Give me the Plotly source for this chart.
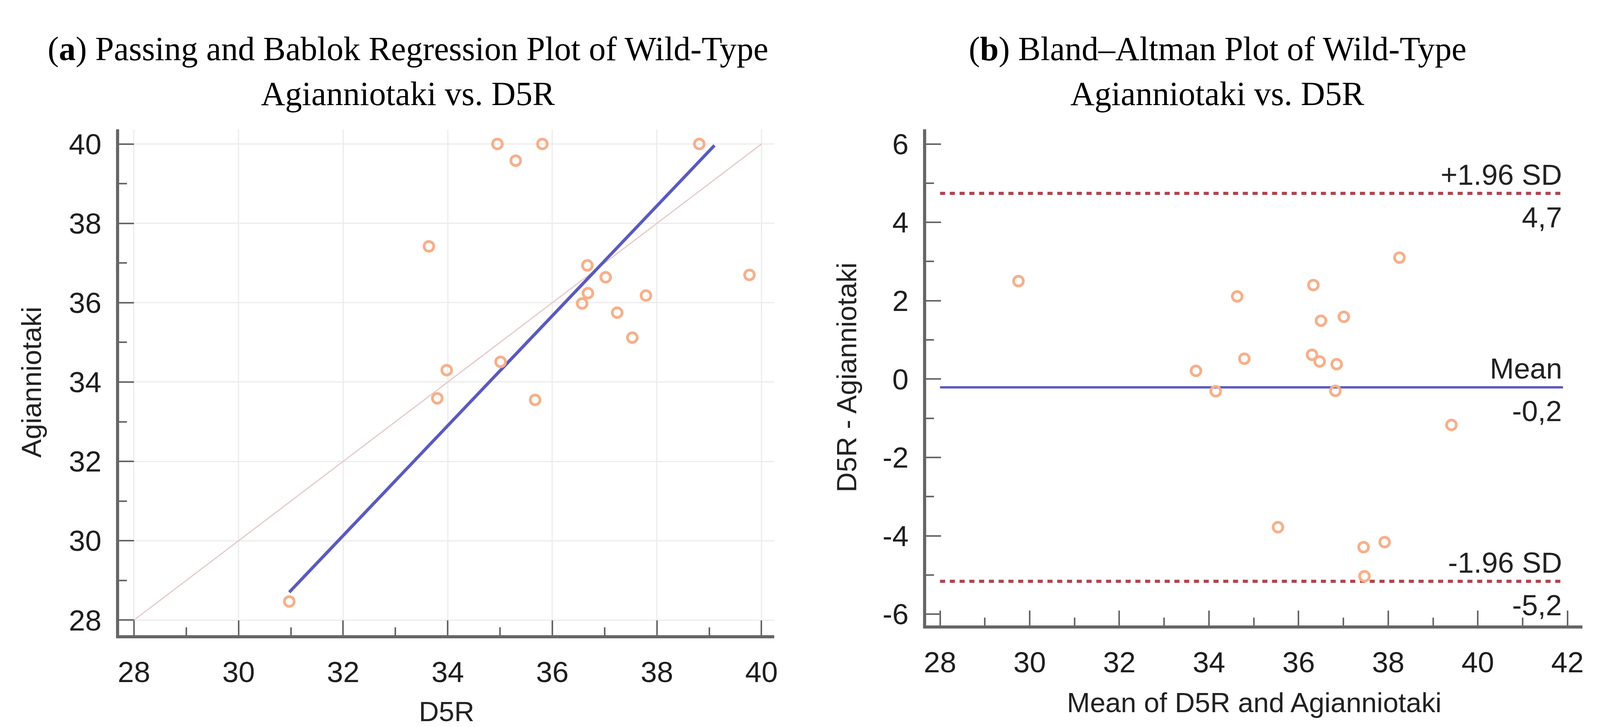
import plotly.graph_objects as go

# ---------------- data ----------------
# (a) Passing and Bablok: D5R (x) vs Agianniotaki (y)
d5r = [34.95, 35.81, 35.30, 38.81, 33.64, 36.67, 37.02, 36.68, 36.57,
       37.79, 39.77, 37.24, 37.53, 33.98, 35.01, 33.80, 35.67, 30.97]
agianniotaki = [40.00, 40.00, 39.58, 40.00, 37.42, 36.94, 36.64, 36.24, 35.98,
                36.18, 36.70, 35.75, 35.12, 34.30, 34.51, 33.59, 33.55, 28.47]
reg_slope = 1.385
reg_intercept = -14.19
reg_x = [30.97, 39.10]
identity_xy = [28, 40]

# (b) Bland-Altman: mean of both (x) vs difference D5R - Agianniotaki (y)
ba_mean = [29.75, 34.63, 36.33, 38.25, 36.50, 37.01, 33.71, 34.79, 36.30,
           36.47, 36.85, 34.15, 36.82, 39.41, 35.54, 37.45, 37.92, 37.47]
ba_diff = [2.50, 2.11, 2.40, 3.10, 1.49, 1.59, 0.21, 0.52, 0.62,
           0.45, 0.38, -0.31, -0.30, -1.17, -3.78, -4.29, -4.16, -5.03]
loa_values = [4.74, -0.21, -5.16]
loa_names = ["+1.96 SD", "Mean", "-1.96 SD"]
loa_texts = ["4,7", "-0,2", "-5,2"]
ba_line_x = [28, 41.9]

# tick labels
a_ticks = [28, 30, 32, 34, 36, 38, 40]
b_xticks = [28, 30, 32, 34, 36, 38, 40, 42]
b_yticks = [-6, -4, -2, 0, 2, 4, 6]
b_yticktext = ["-6", "-4", "-2", "0", "2", "4", "6"]

# ---------------- styles ----------------
SANS = "Liberation Sans, Arial, sans-serif"
SERIF = "Liberation Serif, Times New Roman, serif"
AX = "#666666"
PT = "#f6b08a"
BLUE = "#5a5abf"
RED = "#b04450"

fig = go.Figure()

# panel (a)
fig.add_trace(go.Scatter(x=identity_xy, y=identity_xy, mode="lines",
                         line=dict(color="#e8c8c8", width=3),
                         xaxis="x", yaxis="y", showlegend=False, hoverinfo="skip"))
fig.add_trace(go.Scatter(x=reg_x, y=[reg_intercept + reg_slope * v for v in reg_x],
                         mode="lines", line=dict(color=BLUE, width=8),
                         xaxis="x", yaxis="y", showlegend=False))
fig.add_trace(go.Scatter(x=d5r, y=agianniotaki, mode="markers",
                         marker=dict(symbol="circle-open", size=25, color=PT,
                                     line=dict(width=7, color=PT)),
                         xaxis="x", yaxis="y", showlegend=False))

# panel (b)
for val, dash, col, w in zip(loa_values, ["13px,12px", "solid", "13px,12px"],
                             [RED, BLUE, RED], [8, 6, 8]):
    fig.add_trace(go.Scatter(x=ba_line_x, y=[val, val], mode="lines",
                             line=dict(color=col, width=w, dash=dash),
                             xaxis="x2", yaxis="y2", showlegend=False))
fig.add_trace(go.Scatter(x=ba_mean, y=ba_diff, mode="markers",
                         marker=dict(symbol="circle-open", size=25, color=PT,
                                     line=dict(width=7, color=PT)),
                         xaxis="x2", yaxis="y2", showlegend=False))

tickfont = dict(family=SANS, size=75, color="#1e1e1e")
titlefont = dict(family=SANS, size=71, color="#222222")


def axis(**kw):
    d = dict(ticks="inside", ticklen=38, tickwidth=4, tickcolor=AX,
             showline=True, linewidth=8, linecolor=AX, zeroline=False,
             tickfont=tickfont, ticklabelstandoff=22,
             minor=dict(dtick=1, ticks="inside", ticklen=20, tickwidth=4,
                        tickcolor=AX, showgrid=False))
    d.update(kw)
    return d


fig.update_layout(
    autosize=True,
    margin=dict(l=0, r=0, t=0, b=0),
    paper_bgcolor="white", plot_bgcolor="white",
    xaxis=axis(domain=[0.0732, 0.4841], range=[27.715, 40.24], anchor="y",
               tickvals=a_ticks, showgrid=True, gridcolor="#ececec", gridwidth=3,
               title=dict(text="D5R", font=titlefont, standoff=46)),
    yaxis=axis(domain=[0.1204, 0.8227], range=[27.62, 40.37], anchor="x",
               tickvals=a_ticks, showgrid=True, gridcolor="#ececec", gridwidth=3,
               title=dict(text="Agianniotaki", font=titlefont, standoff=50)),
    xaxis2=axis(domain=[0.5795, 0.9911], range=[27.69, 42.33], anchor="y2",
                tickvals=b_xticks, showgrid=False,
                title=dict(text="Mean of D5R and Agianniotaki", font=titlefont, standoff=40)),
    yaxis2=axis(domain=[0.1338, 0.8227], range=[-6.29, 6.375], anchor="x2",
                tickvals=b_yticks, ticktext=b_yticktext, showgrid=False,
                title=dict(text="D5R - Agianniotaki", font=titlefont, standoff=46)),
)

annotations = []
# panel titles
title_font = dict(family=SERIF, size=86, color="black")
for xc, l1, l2 in [(0.2544, "(<b>a</b>) Passing and Bablok Regression Plot of Wild-Type", "Agianniotaki vs. D5R"),
                   (0.7622, "(<b>b</b>) Bland–Altman Plot of Wild-Type", "Agianniotaki vs. D5R")]:
    annotations.append(dict(x=xc, y=1 - 122 / 1861, xref="paper", yref="paper", text=l1,
                            showarrow=False, xanchor="center", yanchor="middle", font=title_font))
    annotations.append(dict(x=xc, y=1 - 238 / 1861, xref="paper", yref="paper", text=l2,
                            showarrow=False, xanchor="center", yanchor="middle", font=title_font))

lab_font = dict(family=SANS, size=74, color="#222222")
for val, name, txt in zip(loa_values, loa_names, loa_texts):
    annotations.append(dict(x=ba_line_x[1], y=val, xref="x2", yref="y2", text=name,
                            showarrow=False, xanchor="right", yanchor="bottom", yshift=4,
                            font=lab_font))
    annotations.append(dict(x=ba_line_x[1], y=val, xref="x2", yref="y2", text=txt,
                            showarrow=False, xanchor="right", yanchor="top", yshift=-18,
                            font=lab_font))
fig.update_layout(annotations=annotations)

post = ("document.documentElement.style.margin='0';document.body.style.margin='0';"
        "document.documentElement.style.overflow='hidden';document.body.style.overflow='hidden';"
        "var gd=document.getElementById('{plot_id}');gd.style.width='100vw';gd.style.height='100vh';"
        "Plotly.Plots.resize(gd);")

fig.write_html("out.html", default_width="100vw", default_height="100vh",
               config={"responsive": True, "displayModeBar": False}, post_script=post)
